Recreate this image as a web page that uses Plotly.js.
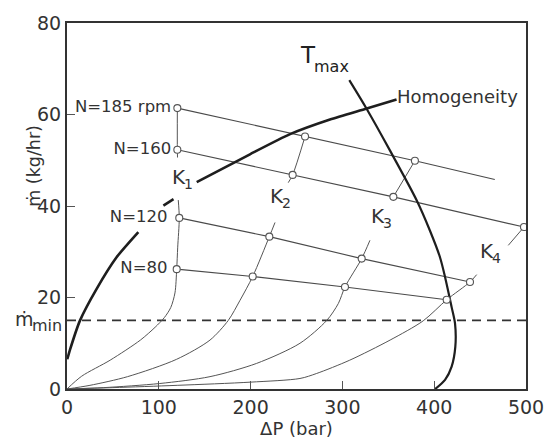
<!DOCTYPE html>
<html>
<head>
<meta charset="utf-8">
<script src="https://cdn.plot.ly/plotly-3.0.1.min.js"></script>
<style>html,body{margin:0;padding:0;background:#fff;}#chart{width:545px;height:441px;}</style>
</head>
<body>
<div id="chart"></div>
<script>
// ---- data (ΔP in bar, ṁ in kg/hr) ----
const xTicks = [0, 100, 200, 300, 400, 500];
const yTicks = [0, 20, 40, 60, 80];

// constant-speed lines
const n185X = [120.2, 259.3, 379, 466];
const n185Y = [61.4, 55.2, 49.9, 45.8];
const n160X = [120.2, 245.8, 355.5, 497.8];
const n160Y = [52.3, 46.8, 42.0, 35.4];
const n120X = [122.3, 220.4, 321, 439];
const n120Y = [37.4, 33.3, 28.5, 23.4];
const n80X  = [119.5, 202.3, 302.8, 413.6];
const n80Y  = [26.2, 24.6, 22.3, 19.5];

// open-circle operating points
const ptX = [120.2, 259.3, 379, 120.2, 245.8, 355.5, 497.8, 122.3, 220.4, 321, 439, 119.5, 202.3, 302.8, 413.6];
const ptY = [61.4, 55.2, 49.9, 52.3, 46.8, 42.0, 35.4, 37.4, 33.3, 28.5, 23.4, 26.2, 24.6, 22.3, 19.5];

// K (constant flow coefficient) curves, upper part + lower part
const k1UpX = [120.2, 120.2, 120.4];
const k1UpY = [61.4, 52.3, 50.6];
const k1LoX = [121.2, 122.3, 120.6, 119.5, 117.6, 113, 106, 96, 80, 47, 16, 0];
const k1LoY = [41.3, 37.4, 31, 26.2, 21, 17.8, 15.6, 13.5, 10.7, 6.3, 2.8, 0];
const k2UpX = [259.3, 245.8, 241];
const k2UpY = [55.2, 46.8, 45.1];
const k2LoX = [226.6, 220.4, 202.3, 188.5, 175.7, 155.8, 119.5, 66, 25, 0];
const k2LoY = [36.4, 33.3, 24.6, 19.4, 15.0, 10.7, 6.5, 2.7, 0.8, 0];
const k3UpX = [379, 355.5];
const k3UpY = [49.9, 42.0];
const k3LoX = [330, 321, 302.8, 295.6, 283, 253.8, 206.6, 155.8, 101, 40, 0];
const k3LoY = [32.5, 28.5, 22.3, 18.7, 15.0, 10.0, 5.6, 2.7, 1.2, 0.3, 0];
const k4UpX = [497.8, 480.7];
const k4UpY = [35.4, 31.4];
const k4LoX = [446.3, 439, 413.6, 388, 352, 308, 272, 253.8, 200, 120, 50, 0];
const k4LoY = [25.0, 23.4, 19.5, 14.9, 10.7, 6.3, 3.4, 2.3, 1.5, 0.8, 0.3, 0];

// limit curves
const tmaxX = [307.5, 326.5, 351.9, 381, 395.4, 406.3, 411.8, 419, 422.7, 423, 419, 411.8, 401];
const tmaxY = [67.5, 61.2, 52.1, 41.2, 34.6, 28.8, 24.5, 17.9, 14.3, 9.2, 4.9, 2.0, 0];
const homX = [0.3, 3.3, 14.2, 32.3, 54, 77.7, null, 105, 116, null, 141.3, 199.3, 243, 286.5, 326.5, 359];
const homY = [6.5, 8.6, 15, 21.9, 28.8, 34.3, null, 40.1, 41.5, null, 45.2, 51.3, 55.7, 58.9, 61.3, 63.3];

const mMin = [15, 15];
const mMinX = [0, 500];

// label texts
const speedLabels = ['N=185 rpm', 'N=160', 'N=120', 'N=80'];
const kMain = ['K', 'K', 'K', 'K'];
const kSubs = ['1', '2', '3', '4'];
const homLabel = 'Homogeneity';

// label anchor positions (layout, not data)
const speedLabelPos = {x: [113.5, 113.5, 109.5, 109.5], y: [61.4, 52.3, 37.4, 26.2]};
const kLabelPos = {x: [129, 235.3, 345.3, 464], y: [46.3, 42.2, 37.8, 30.2]};
const tmaxPos = {x: 270.2, y: 73};
const homLabelPos = {x: [359.5], y: [63.4]};

// ---- traces ----
const F = 'DejaVu Sans, Liberation Sans, Arial, sans-serif';
const thin = {color: '#4a4a4a', width: 1.1};
const kLine = {color: '#555', width: 1.0, shape: 'spline', smoothing: 0.8};
const traces = [];
function add(x, y, line, extra) {
  traces.push(Object.assign({x: x, y: y, type: 'scatter', mode: 'lines', line: line,
    hoverinfo: 'skip', showlegend: false, connectgaps: false}, extra || {}));
}
add(mMinX, mMin, {color: '#333', width: 1.6, dash: '9px,6px'});
[[k1UpX,k1UpY],[k1LoX,k1LoY],[k2UpX,k2UpY],[k2LoX,k2LoY],[k3UpX,k3UpY],[k3LoX,k3LoY],[k4UpX,k4UpY],[k4LoX,k4LoY]]
  .forEach(p => add(p[0], p[1], kLine));
[[n185X,n185Y],[n160X,n160Y],[n120X,n120Y],[n80X,n80Y]].forEach(p => add(p[0], p[1], thin));
add(tmaxX, tmaxY, {color: '#1e1e1e', width: 2.2, shape: 'spline', smoothing: 0.8});
add(homX, homY, {color: '#1e1e1e', width: 2.6, shape: 'spline', smoothing: 0.6});
traces.push({x: ptX, y: ptY, type: 'scatter', mode: 'markers', hoverinfo: 'skip', showlegend: false,
  marker: {symbol: 'circle', size: 7, color: '#fff', line: {color: '#555', width: 1.1}}});

function textTrace(pos, labels, where, size, color) {
  traces.push({x: pos.x, y: pos.y, text: labels, type: 'scatter', mode: 'text', textposition: where,
    cliponaxis: false, hoverinfo: 'skip', showlegend: false,
    textfont: {family: F, size: size, color: color || '#333'}});
}
textTrace(speedLabelPos, speedLabels, 'middle left', 16.5);
textTrace(homLabelPos, [homLabel], 'middle right', 18);

// annotations: letters with separately placed subscripts
const annotations = [];
function ann(text, x, y, o) {
  annotations.push(Object.assign({text: text, x: x, y: y, xref: 'x', yref: 'y', showarrow: false,
    borderpad: 0, font: {family: F, size: 20, color: '#333'}}, o || {}));
}
kMain.forEach((k, i) => {
  ann(k, kLabelPos.x[i], kLabelPos.y[i], {xanchor: 'right', xshift: 2});
  ann(kSubs[i], kLabelPos.x[i], kLabelPos.y[i], {xanchor: 'left', xshift: -2, yshift: -7,
    font: {family: F, size: 14, color: '#333'}});
});
ann('T', tmaxPos.x, tmaxPos.y, {xanchor: 'right', xshift: 2, font: {family: F, size: 23, color: '#222'}});
ann('max', tmaxPos.x, tmaxPos.y, {xanchor: 'left', xshift: -2, yshift: -11, font: {family: F, size: 16, color: '#222'}});
annotations.push({text: 'ṁ', x: 0, y: 15, xref: 'paper', yref: 'y', xanchor: 'right', xshift: -31, yshift: 1,
  showarrow: false, font: {family: F, size: 19, color: '#333'}});
annotations.push({text: 'min', x: 0, y: 15, xref: 'paper', yref: 'y', xanchor: 'right', xshift: -3, yshift: -5,
  showarrow: false, font: {family: F, size: 16, color: '#333'}});
annotations.push({text: 'ṁ (kg/hr)', x: -0.098, y: 0.61, xref: 'paper', yref: 'paper', textangle: -90,
  showarrow: false, font: {family: F, size: 17.5, color: '#333'}});

const layout = {
  width: 545, height: 441,
  margin: {l: 67, r: 19, t: 23, b: 52},
  paper_bgcolor: '#fff', plot_bgcolor: '#fff',
  font: {family: F, color: '#333'},
  xaxis: {range: [0, 500], tickvals: xTicks, ticktext: xTicks.map(String), ticks: 'inside', ticklen: 8,
    tickcolor: '#555', showgrid: false, zeroline: false, showline: true, mirror: true,
    linecolor: '#333', linewidth: 2, tickfont: {family: F, size: 19, color: '#333'},
    title: {text: 'ΔP (bar)', font: {family: F, size: 18, color: '#333'}, standoff: 6}},
  yaxis: {range: [0, 80], tickvals: yTicks, ticktext: yTicks.map(String), ticks: 'inside', ticklen: 8,
    tickcolor: '#555', showgrid: false, zeroline: false, showline: true, mirror: true,
    linecolor: '#333', linewidth: 2, tickfont: {family: F, size: 19, color: '#333'}},
  annotations: annotations
};

Plotly.newPlot('chart', traces, layout, {displayModeBar: false});
</script>
</body>
</html>
